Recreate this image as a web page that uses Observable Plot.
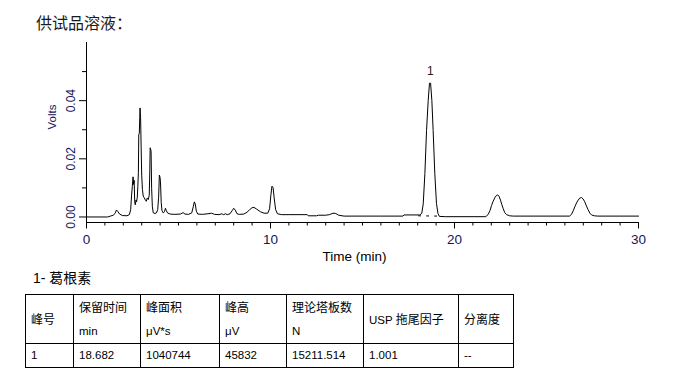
<!DOCTYPE html>
<html>
<head>
<meta charset="utf-8">
<script src="https://cdn.jsdelivr.net/npm/d3@7"></script>
<script src="https://cdn.jsdelivr.net/npm/@observablehq/plot@0.6"></script>
<style>
  html, body { margin: 0; padding: 0; background: #fff; }
  body { width: 688px; height: 377px; position: relative; overflow: hidden; }
  #title { position: absolute; left: 36px; top: 13px; font: 16px/18px "Noto Sans CJK SC", sans-serif; color: #1a1a1a; white-space: nowrap; z-index: 2; }
  #chart { position: absolute; left: 0; top: 0; }
  #peakname { position: absolute; left: 33px; top: 268px; font: 14px/20px "Liberation Sans", "Noto Sans CJK SC", sans-serif; color: #000; white-space: nowrap; }
  #tbl { position: absolute; left: 25px; top: 294px; border-collapse: collapse; table-layout: fixed; width: 488px; }
  #tbl td { border: 1px solid #000; padding: 0 0 0 5px; font: 11.5px "Liberation Sans", "Noto Sans CJK SC", sans-serif; line-height: 23px; color: #000; vertical-align: top; white-space: nowrap; overflow: hidden; }
  #tbl tr.h td { height: 46px; }
  #tbl tr.h td.m { vertical-align: middle; }
  #tbl tr.d td { height: 22px; vertical-align: middle; }
  #tbl .c { font-size: 12px; font-family: "Noto Sans CJK SC", sans-serif; }
</style>
</head>
<body>
<div id="title">供试品溶液：</div>
<div id="chart"></div>
<div id="peakname"></div>
<table id="tbl"></table>
<script>
// Chromatogram trace: retention time (min) and signal (Volts)
const times = [
  0, 1.15, 1.3, 1.45, 1.55, 1.63, 1.7, 1.8, 1.95, 2.2,
  2.33, 2.4, 2.45, 2.49, 2.53, 2.56, 2.59, 2.62, 2.65, 2.69,
  2.72, 2.76, 2.79, 2.82, 2.84, 2.87, 2.91, 2.94, 2.97, 3.0,
  3.04, 3.08, 3.14, 3.2, 3.25, 3.3, 3.36, 3.41, 3.44, 3.46,
  3.49, 3.51, 3.54, 3.58, 3.63, 3.72, 3.8, 3.87, 3.92, 3.96,
  3.99, 4.02, 4.06, 4.1, 4.17, 4.24, 4.29, 4.34, 4.4, 4.55,
  4.8, 5.1, 5.25, 5.35, 5.55, 5.72, 5.8, 5.86, 5.91, 5.97,
  6.05, 6.3, 6.6, 6.8, 6.95, 7.2, 7.35, 7.45, 7.55, 7.65,
  7.8, 7.92, 8.0, 8.08, 8.18, 8.3, 8.55, 8.72, 8.85, 9.0,
  9.1, 9.25, 9.45, 9.65, 9.85, 9.95, 10.02, 10.08, 10.14, 10.2,
  10.28, 10.38, 10.6, 11.0, 11.5, 12.0, 12.05, 12.5, 12.6, 13.0,
  13.2, 13.4, 13.55, 13.7, 14.0, 16.0, 17.2, 17.25, 18.1, 18.22,
  18.3, 18.39, 18.48, 18.57, 18.64, 18.7, 18.77, 18.84, 18.93, 19.02,
  19.1, 19.18, 19.5, 21.7, 21.82, 21.93, 22.01, 22.1, 22.19, 22.28,
  22.35, 22.42, 22.5, 22.57, 22.64, 22.73, 22.83, 23.0, 23.2, 26.25,
  26.36, 26.45, 26.54, 26.63, 26.72, 26.81, 26.9, 26.99, 27.08, 27.17,
  27.26, 27.36, 27.45, 27.6, 27.8, 30.0
];
const volts = [
  0, 0, 0.0003, 0.0006, 0.0012, 0.0024, 0.0019, 0.001, 0.0005, 0.0004,
  0.0008, 0.0025, 0.0075, 0.0105, 0.0138, 0.0112, 0.0126, 0.0052, 0.0042, 0.0058,
  0.0052, 0.0068, 0.0105, 0.0152, 0.0282, 0.0288, 0.0375, 0.0342, 0.024, 0.0144,
  0.0095, 0.0072, 0.0066, 0.0058, 0.0054, 0.0065, 0.006, 0.0075, 0.0155, 0.0238,
  0.0232, 0.0226, 0.0098, 0.0035, 0.0014, 0.0012, 0.0014, 0.0025, 0.0068, 0.0144,
  0.0138, 0.0123, 0.005, 0.0022, 0.0014, 0.0018, 0.003, 0.0022, 0.0014, 0.001,
  0.0009, 0.001, 0.0015, 0.001, 0.0009, 0.0014, 0.0035, 0.0052, 0.0045, 0.002,
  0.001, 0.0009, 0.0011, 0.0013, 0.0009, 0.0008, 0.0011, 0.0008, 0.0011, 0.0008,
  0.0011, 0.0022, 0.003, 0.0024, 0.0011, 0.0009, 0.001, 0.0016, 0.0024, 0.0032,
  0.0033, 0.0027, 0.0018, 0.0013, 0.0013, 0.0028, 0.0075, 0.0106, 0.0101, 0.0065,
  0.0025, 0.0011, 0.0008, 0.0008, 0.0008, 0.0008, 0.0004, 0.0004, 0.0006, 0.0006,
  0.0008, 0.0013, 0.0012, 0.0006, 0.0003, 0.0003, 0.0003, 0.0007, 0.0007, 0.0012,
  0.0045, 0.0149, 0.0297, 0.04, 0.046, 0.046, 0.04, 0.0297, 0.0149, 0.0047,
  0.0012, 0.0002, 0.0001, 0.0001, 0.0008, 0.0022, 0.0039, 0.0054, 0.0066, 0.0074,
  0.0076, 0.0071, 0.0058, 0.0043, 0.003, 0.0015, 0.0008, 0.0004, 0.0003, 0.0003,
  0.0009, 0.0021, 0.0035, 0.0048, 0.0058, 0.0065, 0.0067, 0.0062, 0.0052, 0.0038,
  0.0025, 0.0013, 0.0007, 0.0004, 0.0003, 0.0003
];

// Integration baseline under peak 1 (dashed)
const baseTimes = [18.05, 19.15];
const baseVolts = [0.0004, 0.0003];

// Labelled peak
const peakLabels = ["1"];
const peakTimes = [18.682];
const peakHeights = [0.045832];
const peakNames = ["1- 葛根素"];

// Axes
const xDomain = [0, 30];
const yDomain = [-0.0019, 0.06];
const xMajorTicks = [0, 10, 20, 30];
const xMinorTicks = d3.range(0, 31).filter(d => d % 10 !== 0);
const yMajorTicks = [0, 0.02, 0.04];
const yMinorTicks = [0.01, 0.03, 0.05];
const xLabel = "Time (min)";
const yLabel = "Volts";

// Results table
const headerLine1 = ["峰号", "保留时间", "峰面积", "峰高", "理论塔板数", "USP 拖尾因子", "分离度"];
const headerLine2 = ["", "min", "μV*s", "μV", "N", "", ""];
const resultRow = ["1", "18.682", "1040744", "45832", "15211.514", "1.001", "--"];
const colWidths = [48, 67, 79, 67, 77, 95, 55];

const trace = times.map((t, i) => ({t, v: volts[i]}));
const baseline = baseTimes.map((t, i) => ({t, v: baseVolts[i]}));
const peaks = peakLabels.map((l, i) => ({label: l, t: peakTimes[i], v: peakHeights[i]}));

const tickColor = "#16165a";
const blank = () => "";

const chart = Plot.plot({
  width: 688,
  height: 272,
  marginLeft: 86,
  marginRight: 50,
  marginTop: 42,
  marginBottom: 50,
  x: {domain: xDomain, label: null},
  y: {domain: yDomain, label: null},
  style: {fontFamily: "'Liberation Sans', Arial, sans-serif", background: "transparent", color: "#000"},
  marks: [
    Plot.ruleX([xDomain[0]], {stroke: "#000"}),
    Plot.ruleY([yDomain[0]], {stroke: "#000"}),
    Plot.axisY(yMajorTicks, {anchor: "left", label: null, tickSize: 7, tickFormat: blank, stroke: "#000"}),
    Plot.axisY(yMinorTicks, {anchor: "left", label: null, tickSize: 4, tickFormat: blank, stroke: "#000"}),
    Plot.text(yMajorTicks, {frameAnchor: "left", y: d => d, text: d => d.toFixed(2), rotate: -90, dx: -15, fontSize: 12, fill: tickColor, textAnchor: "middle", lineAnchor: "middle"}),
    Plot.axisX(xMajorTicks, {anchor: "bottom", label: null, tickSize: 6.5, tickFormat: blank, stroke: "#000"}),
    Plot.axisX(xMinorTicks, {anchor: "bottom", label: null, tickSize: 3.5, tickFormat: blank, stroke: "#000"}),
    Plot.text(xMajorTicks, {frameAnchor: "bottom", x: d => d, text: d => String(d), dy: 17, fontSize: 13.5, fill: tickColor, lineAnchor: "middle"}),
    Plot.text([xLabel], {frameAnchor: "bottom", text: d => d, dx: -8, dy: 34, fontSize: 13.5, fill: "#000", lineAnchor: "middle"}),
    Plot.text([yLabel], {frameAnchor: "left", text: d => d, rotate: -90, dx: -34, dy: -3, fontSize: 11.5, fill: tickColor, lineAnchor: "middle"}),
    Plot.line(baseline, {x: "t", y: "v", stroke: "#000", strokeWidth: 1, strokeDasharray: "2,6"}),
    Plot.line(trace, {x: "t", y: "v", stroke: "#000", strokeWidth: 1}),
    Plot.text(peaks, {x: "t", y: "v", text: "label", dy: -12.5, fontSize: 12, fill: "#2a2010", lineAnchor: "middle"})
  ]
});
document.getElementById("chart").appendChild(chart);

document.getElementById("peakname").textContent = peakNames[0];

// Build table
const tbl = document.getElementById("tbl");
const cg = document.createElement("colgroup");
colWidths.forEach(w => { const c = document.createElement("col"); c.style.width = w + "px"; cg.appendChild(c); });
tbl.appendChild(cg);
const wrapCJK = s => s.replace(/([\u4e00-\u9fff]+)/g, '<span class="c">$1</span>');
const trh = document.createElement("tr");
trh.className = "h";
headerLine1.forEach((h, i) => {
  const td = document.createElement("td");
  if (headerLine2[i]) {
    td.innerHTML = wrapCJK(h) + "<br>" + headerLine2[i];
  } else {
    td.className = "m";
    td.innerHTML = wrapCJK(h);
  }
  trh.appendChild(td);
});
tbl.appendChild(trh);
const trd = document.createElement("tr");
trd.className = "d";
resultRow.forEach(v => { const td = document.createElement("td"); td.textContent = v; trd.appendChild(td); });
tbl.appendChild(trd);
</script>
</body>
</html>
